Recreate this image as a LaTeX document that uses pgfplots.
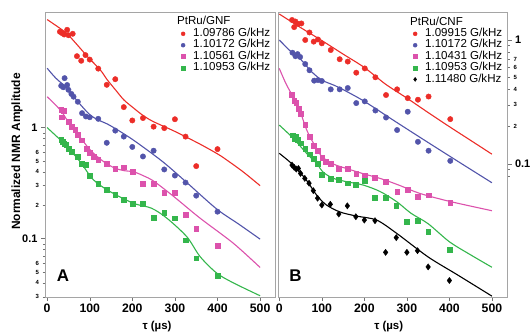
\documentclass[border=0pt]{standalone}
\usepackage{fontspec}
\setmainfont{Liberation Sans}
\usepackage{pgfplots}
\pgfplotsset{compat=1.18}

\definecolor{cred}{RGB}{236,45,40}
\definecolor{cblue}{RGB}{82,84,170}
\definecolor{cmag}{RGB}{220,82,172}
\definecolor{cgreen}{RGB}{52,182,76}
\definecolor{cframe}{RGB}{165,165,165}

\pgfplotsset{
  dots/.style={only marks,
    legend image code/.code={\draw[mark repeat=2,mark phase=2,##1,mark size=2bp] plot coordinates {(0bp,0bp)(4bp,0bp)(8bp,0bp)};}},
  fitline/.style={no marks, smooth, line width=1.1bp, forget plot},
}

\begin{document}
\begin{tikzpicture}[x=1bp,y=1bp]
\useasboundingbox (0,0) rectangle (532,331);

% ---------------- Panel A ----------------
\begin{axis}[ymode=log, scale only axis, height=284.7bp, width=230bp,
  at={(45bp,34.3bp)}, anchor=south west,
  axis line style={cframe}, tick align=outside,
  xtick={0,100,200,300,400,500}, xtick pos=bottom,
  every tick/.style={black!55},
  major tick length=4bp, minor tick length=2bp,
  tick label style={font=\fontsize{11}{12}\selectfont\bfseries},
  xticklabel style={font=\fontsize{12.3}{13}\selectfont\bfseries},
  /pgf/number format/assume math mode=true,
  legend cell align=left,
  legend style={draw=none, fill=none, anchor=north west,
      font=\fontsize{11.6}{12}\selectfont, column sep=8bp,
      nodes={inner xsep=0pt, inner ysep=0pt, text height=8.3bp, text depth=3.1bp},
      at={(axis description cs:0.578,0.951)}},
  xmin=-5, xmax=535, ymin=0.0300, ymax=11.0,
  ytick={0.1,1}, yticklabels={0.1,1}, ytick pos=left,
  minor ytick={0.03,0.04,0.05,0.06,0.07,0.08,0.09,0.2,0.3,0.4,0.5,0.6,0.7,0.8,0.9},
  extra y ticks={0.03,0.04,0.05,0.06,0.2,0.3,0.4,0.5,0.6},
  extra y tick labels={3,4,5,6,2,3,4,5,6},
  extra y tick style={major tick length=2.5bp, tick label style={font=\fontsize{6}{6}\selectfont\bfseries}},
]
\addplot[dots, mark=*, mark size=2.7bp, cred] coordinates {
(30,7.3)(35,7.1)(40,6.9)(47,7.6)(50,6.8)(60,7.0)(70,4.4)(80,4.0)(90,4.5)(100,4.1)
(120,3.4)(140,2.43)(160,2.73)(180,1.53)(200,1.16)(225,1.22)(250,1.02)(275,0.99)
(300,1.19)(325,0.83)(350,0.45)(400,0.64)};
\addlegendentry{1.09786 G/kHz}
\addplot[dots, mark=*, mark size=2.7bp, cblue] coordinates {
(33,2.38)(38,2.31)(41,2.79)(47,2.42)(50,2.19)(57,2.01)(62,1.90)(72,1.71)(82,1.35)
(91,1.26)(100,1.24)(120,1.20)(140,0.73)(160,0.94)(180,0.83)(200,0.67)(225,0.55)
(250,0.62)(275,0.42)(300,0.37)(325,0.32)(350,0.244)(400,0.175)};
\addlegendentry{1.10172 G/kHz}
\addplot[dots, mark=square*, mark size=2.4bp, cmag] coordinates {
(33,1.44)(38,1.42)(35,1.24)(50,1.13)(57,1.02)(66,0.95)(72,0.86)(82,0.77)(92,0.65)
(100,0.59)(110,0.55)(120,0.51)(140,0.47)(160,0.43)(180,0.44)(200,0.40)(225,0.315)
(250,0.315)(275,0.26)(300,0.26)(325,0.164)(350,0.122)(400,0.0865)};
\addlegendentry{1.10561 G/kHz}
\addplot[dots, mark=square*, mark size=2.4bp, cgreen] coordinates {
(33,0.775)(37,0.75)(40,0.72)(45,0.70)(50,0.65)(57,0.61)(72,0.55)(82,0.47)(90,0.46)
(100,0.37)(120,0.31)(140,0.275)(160,0.25)(180,0.226)(200,0.205)(225,0.205)
(250,0.155)(275,0.171)(300,0.153)(325,0.097)(350,0.0666)(400,0.046)};
\addlegendentry{1.10953 G/kHz}

\addplot[fitline, cred] coordinates {
(0,9.4)(15,8.6)(31,7.8)(47,7.0)(70,5.6)(94,4.4)(125,3.3)(141,2.7)(160,2.2)(180,1.78)
(203,1.5)(226,1.28)(250,1.13)(301,0.92)(359,0.71)(400,0.58)(422,0.51)(460,0.40)(500,0.30)};
\addplot[fitline, cblue] coordinates {
(0,3.43)(20,2.8)(47,2.26)(65,1.85)(82,1.55)(101,1.30)(120,1.17)(141,1.08)(170,0.93)
(203,0.77)(250,0.57)(281,0.46)(328,0.32)(398,0.185)(450,0.135)(500,0.099)};
\addplot[fitline, cmag] coordinates {
(0,1.90)(31,1.44)(50,1.12)(70,0.89)(101,0.63)(125,0.52)(141,0.47)(160,0.43)(180,0.41)
(203,0.40)(225,0.37)(250,0.33)(297,0.24)(359,0.153)(437,0.091)(500,0.055)};
\addplot[fitline, cgreen] coordinates {
(0,1.0)(31,0.775)(55,0.62)(78,0.49)(109,0.338)(148,0.265)(203,0.208)(245,0.188)
(281,0.153)(328,0.104)(359,0.069)(398,0.049)(437,0.040)(500,0.0306)};
\end{axis}

% ---------------- Panel B ----------------
\begin{axis}[ymode=log, scale only axis, height=284.7bp, width=229.5bp,
  at={(278bp,34.3bp)}, anchor=south west,
  axis line style={cframe}, tick align=outside,
  xtick={0,100,200,300,400,500}, xtick pos=bottom,
  every tick/.style={black!55},
  major tick length=4bp, minor tick length=2bp,
  tick label style={font=\fontsize{11}{12}\selectfont\bfseries},
  xticklabel style={font=\fontsize{12.3}{13}\selectfont\bfseries},
  /pgf/number format/assume math mode=true,
  legend cell align=left,
  legend style={draw=none, fill=none, anchor=north west,
      font=\fontsize{11.6}{12}\selectfont, column sep=8bp,
      nodes={inner xsep=0pt, inner ysep=0pt, text height=8.3bp, text depth=3.1bp},
      at={(axis description cs:0.575,0.951)}},
  xmin=-3, xmax=536.6, ymin=0.00851, ymax=1.682,
  ytick={0.1,1}, yticklabels={0.1,1}, ytick pos=right, yticklabel pos=right,
  minor ytick={0.08,0.09,0.2,0.3,0.4,0.5,0.6,0.7,0.8,0.9},
  extra y ticks={0.2,0.3,0.4,0.5,0.6,0.7},
  extra y tick labels={2,3,4,5,6,7},
  extra y tick style={major tick length=2.5bp, tick label style={font=\fontsize{6}{6}\selectfont\bfseries}},
]
\addplot[dots, mark=*, mark size=2.7bp, cred] coordinates {
(30,1.45)(35,1.27)(38,1.41)(44,1.35)(52,1.36)(61,1.0)(71,1.15)(81,0.97)(91,1.01)
(100,0.94)(121,0.83)(142,0.70)(161,0.67)(181,0.545)(201,0.59)(226,0.50)(251,0.36)
(277,0.40)(302,0.34)(326,0.33)(351,0.35)(402,0.23)};
\addlegendentry{1.09915 G/kHz}
\addplot[dots, mark=*, mark size=2.7bp, cblue] coordinates {
(31,0.79)(38,0.74)(43,0.77)(49,0.73)(61,0.64)(71,0.57)(82,0.47)(91,0.475)(100,0.467)
(121,0.40)(142,0.40)(161,0.41)(181,0.31)(201,0.32)(226,0.27)(251,0.237)(277,0.188)
(302,0.264)(326,0.151)(351,0.128)(402,0.106)};
\addlegendentry{1.10172 G/kHz}
\addplot[dots, mark=square*, mark size=2.4bp, cmag] coordinates {
(30,0.36)(35,0.324)(40,0.31)(46,0.28)(51,0.256)(61,0.206)(71,0.166)(81,0.14)(90,0.128)
(101,0.113)(110,0.105)(120,0.10)(140,0.091)(161,0.091)(181,0.084)(201,0.081)
(225,0.078)(251,0.072)(277,0.060)(302,0.0617)(326,0.0545)(351,0.056)(402,0.0488)};
\addlegendentry{1.10431 G/kHz}
\addplot[dots, mark=square*, mark size=2.4bp, cgreen] coordinates {
(31,0.171)(35,0.161)(38,0.166)(43,0.158)(51,0.147)(61,0.132)(71,0.12)(81,0.11)
(90,0.10)(100,0.0815)(120,0.0767)(140,0.0743)(160,0.070)(180,0.068)(200,0.073)
(225,0.0535)(250,0.0535)(275,0.0459)(300,0.0343)(325,0.0349)(350,0.0285)(400,0.0205)};
\addlegendentry{1.10953 G/kHz}
\addplot[dots, mark=diamond*, mark size=3.1bp, black] coordinates {
(30,0.098)(35,0.094)(40,0.091)(45,0.092)(50,0.084)(60,0.0766)(70,0.070)(80,0.061)
(90,0.053)(100,0.0467)(120,0.0473)(140,0.0395)(160,0.046)(180,0.0376)(200,0.0353)
(225,0.0349)(250,0.0194)(275,0.0255)(300,0.0194)(325,0.020)(350,0.0148)(400,0.0115)};
\addlegendentry{1.11480 G/kHz}

\addplot[fitline, cred] coordinates {
(0,1.62)(50,1.26)(100,0.99)(150,0.77)(200,0.60)(250,0.44)(300,0.34)(350,0.26)
(400,0.20)(450,0.155)(500,0.12)};
\addplot[fitline, cblue] coordinates {
(0,1.0)(30,0.79)(50,0.70)(76,0.555)(100,0.475)(130,0.43)(155,0.39)(200,0.32)
(273,0.22)(350,0.149)(420,0.105)(500,0.0706)};
\addplot[fitline, cmag] coordinates {
(0,0.59)(15,0.45)(30,0.36)(45,0.29)(64,0.19)(80,0.148)(100,0.115)(127,0.10)
(158,0.092)(200,0.083)(240,0.076)(284,0.067)(330,0.058)(400,0.050)(500,0.042)};
\addplot[fitline, cgreen] coordinates {
(0,0.206)(33,0.161)(64,0.122)(88,0.101)(103,0.086)(127,0.0767)(158,0.072)(197,0.0677)
(237,0.060)(276,0.0497)(310,0.040)(350,0.033)(400,0.0236)(450,0.0185)(500,0.0147)};
\addplot[fitline, black] coordinates {
(0,0.122)(33,0.098)(64,0.074)(88,0.056)(111,0.0467)(143,0.041)(182,0.038)(229,0.0353)
(276,0.0276)(350,0.0178)(420,0.0127)(500,0.0086)};
\end{axis}

% ---------------- Text ----------------
\node[rotate=90, font=\fontsize{12}{13}\selectfont\bfseries] at (17,179.5) {Normalized NMR Amplitude};
\node[font=\fontsize{11.5}{12}\selectfont\bfseries] at (157,4.8) {τ (µs)};
\node[font=\fontsize{11.5}{12}\selectfont\bfseries] at (388.7,4.8) {τ (µs)};
\node[font=\fontsize{17}{18}\selectfont\bfseries] at (63,55) {A};
\node[font=\fontsize{17}{18}\selectfont\bfseries] at (295.5,55) {B};
\node[anchor=west, inner sep=0pt, font=\fontsize{11.6}{12}\selectfont] at (177,311) {PtRu/GNF};
\node[anchor=west, inner sep=0pt, font=\fontsize{11.6}{12}\selectfont] at (410,310) {PtRu/CNF};
\end{tikzpicture}
\end{document}
